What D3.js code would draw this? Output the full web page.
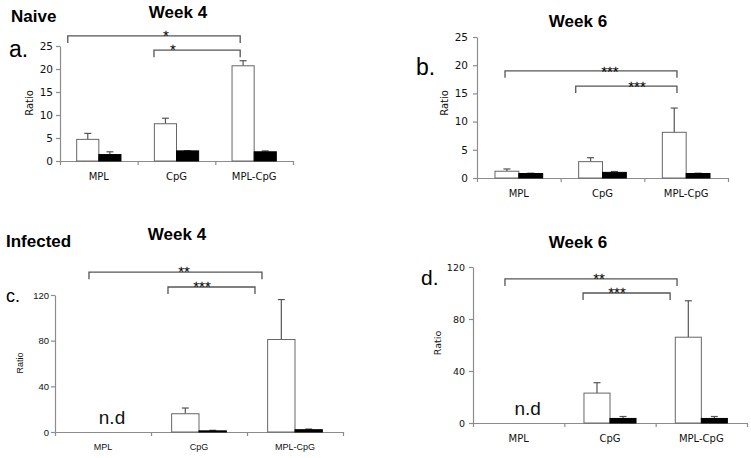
<!DOCTYPE html>
<html><head><meta charset="utf-8">
<script src="https://cdn.jsdelivr.net/npm/d3@7"></script>
<style>body{margin:0;background:#fff}svg{display:block}</style>
</head><body>
<svg id="chart" width="751" height="458"></svg>
<script>
// ---------------- DATA ----------------
const categories = ["MPL", "CpG", "MPL-CpG"];
const naiveTicks = [0, 5, 10, 15, 20, 25];
const infectedTicks = [0, 40, 80, 120];

// a. Naive Week 4
const aWhite = [4.7, 8.1, 20.7];
const aWhiteErr = [1.3, 1.2, 1.1];
const aBlack = [1.4, 2.2, 2.0];
const aBlackErr = [0.6, 0.05, 0.2];
// b. Naive Week 6
const bWhite = [1.2, 2.9, 8.1];
const bWhiteErr = [0.4, 0.7, 4.3];
const bBlack = [0.8, 1.0, 0.8];
const bBlackErr = [0.05, 0.15, 0.05];
// c. Infected Week 4 (MPL not determined)
const cWhite = [null, 16, 81];
const cWhiteErr = [null, 5, 35];
const cBlack = [null, 1.0, 2.0];
const cBlackErr = [null, 0.5, 0.6];
// d. Infected Week 6 (MPL not determined)
const dWhite = [null, 23, 66];
const dWhiteErr = [null, 8, 28];
const dBlack = [null, 3.5, 3.5];
const dBlackErr = [null, 1.5, 1.5];

// significance brackets: [from (category units), to, level (data units), stars, star position]
const aBrackets = [[0.10, 2.32, 27.2, "*", 1.364], [1.21, 2.32, 24.1, "*", 1.454]];
const bBrackets = [[0.335, 2.39, 19.0, "***", 1.589], [1.18, 2.39, 16.3, "***", 1.912]];
const cBrackets = [[0.354, 2.156, 140, "**", 1.344], [1.177, 2.083, 127, "***", 1.531]];
const dBrackets = [[0.35, 2.234, 110.8, "**", 1.38], [1.205, 2.158, 100, "***", 1.577]];

// ---------------- DRAW ----------------
const svg = d3.select("#chart");
const VERD = "'DejaVu Sans', Verdana, sans-serif";
const ARIAL = "'Liberation Sans', Arial, sans-serif";

function panel(cfg) {
  const g = svg.append("g");
  const x = d3.scaleBand().domain(categories).range([cfg.x0, cfg.x1]);
  const xc = d3.scaleLinear().domain([0, categories.length]).range([cfg.x0, cfg.x1]);
  const y = d3.scaleLinear().domain([0, cfg.yMax]).range([cfg.y0, cfg.yTop]);
  const bw = x.bandwidth() * 0.285;
  const axisCol = "#8c8c8c";

  // y axis
  const ya = g.append("g").attr("transform", `translate(${cfg.x0},0)`)
    .call(d3.axisLeft(y).tickValues(cfg.ticks).tickSize(4).tickSizeOuter(0).tickPadding(cfg.tickPad));
  ya.select(".domain").attr("stroke", axisCol).attr("stroke-width", 1.2);
  ya.selectAll(".tick line").attr("stroke", axisCol).attr("stroke-width", 1.2);
  ya.selectAll(".tick text").attr("fill", "#111").style("font-family", cfg.font).style("font-size", cfg.tickFs + "px");

  // x axis (ticks at category boundaries)
  const xa = g.append("g").attr("transform", `translate(0,${cfg.y0})`)
    .call(d3.axisBottom(xc).tickValues(d3.range(categories.length + 1)).tickSize(4).tickSizeOuter(0).tickFormat(""));
  xa.select(".domain").attr("stroke", axisCol).attr("stroke-width", 1.2);
  xa.selectAll(".tick line").attr("stroke", axisCol).attr("stroke-width", 1.2);

  // category labels
  g.selectAll(".cat").data(categories).join("text")
    .attr("x", d => x(d) + x.bandwidth() / 2).attr("y", cfg.y0 + cfg.catDy)
    .attr("text-anchor", "middle").attr("fill", "#111")
    .style("font-family", cfg.font).style("font-size", cfg.catFs + "px").text(d => d);

  // Ratio label
  g.append("text").attr("transform", `translate(${cfg.ratioX},${cfg.ratioY}) rotate(-90)`)
    .attr("text-anchor", "middle").attr("fill", "#111")
    .style("font-family", cfg.font).style("font-size", cfg.ratioFs + "px").text("Ratio");

  // bars
  const series = [
    {vals: cfg.white, errs: cfg.whiteErr, fill: "#fff", off: -1},
    {vals: cfg.black, errs: cfg.blackErr, fill: "#000", off: 0}
  ];
  series.forEach(s => {
    categories.forEach((c, i) => {
      const v = s.vals[i];
      if (v == null) return;
      const cx = x(c) + x.bandwidth() / 2 + s.off * bw;
      const mid = cx + bw / 2;
      const e = s.errs[i];
      g.append("line").attr("x1", mid).attr("x2", mid).attr("y1", y(v)).attr("y2", y(v + e))
        .attr("stroke", "#555").attr("stroke-width", 1.2);
      g.append("line").attr("x1", mid - 3.5).attr("x2", mid + 3.5).attr("y1", y(v + e)).attr("y2", y(v + e))
        .attr("stroke", "#555").attr("stroke-width", 1.2);
      g.append("rect").attr("x", cx).attr("y", y(v)).attr("width", bw).attr("height", cfg.y0 - y(v))
        .attr("fill", s.fill).attr("stroke", s.fill === "#000" ? "#000" : "#666").attr("stroke-width", 1);
    });
  });

  // brackets
  cfg.brackets.forEach(b => {
    const x1 = xc(b[0]), x2 = xc(b[1]), yy = y(b[2]);
    g.append("path").attr("d", `M${x1},${yy + 7}V${yy}H${x2}V${yy + 7}`)
      .attr("fill", "none").attr("stroke", "#555").attr("stroke-width", 1.3);
    g.append("text").attr("x", xc(b[4])).attr("y", yy + cfg.starDy)
      .attr("text-anchor", "middle").attr("fill", "#000")
      .style("font-family", ARIAL).style("font-size", "15px")
      .style("text-rendering", "geometricPrecision").text(b[3]);
  });

  // n.d
  categories.forEach((c, i) => {
    if (cfg.white[i] == null) {
      g.append("text").attr("x", x(c) + x.bandwidth() / 2 + 9).attr("y", cfg.y0 - 8)
        .attr("text-anchor", "middle").attr("fill", "#111")
        .style("font-family", ARIAL).style("font-size", "19px").text("n.d");
    }
  });

  // titles and panel letter
  cfg.texts.forEach(t => {
    svg.append("text").attr("x", t.x).attr("y", t.y).attr("text-anchor", t.anchor || "start")
      .attr("fill", "#000").style("font-family", ARIAL).style("font-size", t.fs + "px")
      .style("font-weight", t.bold ? "bold" : "normal").text(t.s);
  });
}

panel({x0: 60, x1: 293, y0: 161, yTop: 46, yMax: 25, ticks: naiveTicks,
  white: aWhite, whiteErr: aWhiteErr, black: aBlack, blackErr: aBlackErr, brackets: aBrackets,
  font: VERD, tickFs: 10.5, tickPad: 3, catFs: 10, catDy: 19, ratioFs: 10, ratioX: 33, ratioY: 103, starDy: 5,
  texts: [{s: "Naive", x: 11, y: 22, fs: 17, bold: true}, {s: "Week 4", x: 178, y: 18, fs: 17, bold: true, anchor: "middle"},
          {s: "a.", x: 9, y: 57, fs: 23}]});

panel({x0: 477, x1: 728, y0: 178, yTop: 37, yMax: 25, ticks: naiveTicks,
  white: bWhite, whiteErr: bWhiteErr, black: bBlack, blackErr: bBlackErr, brackets: bBrackets,
  font: VERD, tickFs: 10.5, tickPad: 5, catFs: 10, catDy: 19, ratioFs: 10, ratioX: 448, ratioY: 103, starDy: 6,
  texts: [{s: "Week 6", x: 578, y: 27, fs: 17, bold: true, anchor: "middle"},
          {s: "b.", x: 416, y: 75, fs: 23}]});

panel({x0: 55, x1: 343, y0: 432, yTop: 295, yMax: 120, ticks: infectedTicks,
  white: cWhite, whiteErr: cWhiteErr, black: cBlack, blackErr: cBlackErr, brackets: cBrackets,
  font: ARIAL, tickFs: 9.5, tickPad: 2, catFs: 9, catDy: 18, ratioFs: 9, ratioX: 23, ratioY: 363, starDy: 5,
  texts: [{s: "Infected", x: 6, y: 247, fs: 17, bold: true}, {s: "Week 4", x: 177, y: 240, fs: 17, bold: true, anchor: "middle"},
          {s: "c.", x: 6, y: 302, fs: 18}]});

panel({x0: 473, x1: 747, y0: 423, yTop: 267, yMax: 120, ticks: infectedTicks,
  white: dWhite, whiteErr: dWhiteErr, black: dBlack, blackErr: dBlackErr, brackets: dBrackets,
  font: VERD, tickFs: 9.5, tickPad: 4, catFs: 10, catDy: 19, ratioFs: 9.5, ratioX: 441, ratioY: 343, starDy: 5,
  texts: [{s: "Week 6", x: 578, y: 248, fs: 17, bold: true, anchor: "middle"},
          {s: "d.", x: 421, y: 285, fs: 21}]});
</script>
</body></html>
